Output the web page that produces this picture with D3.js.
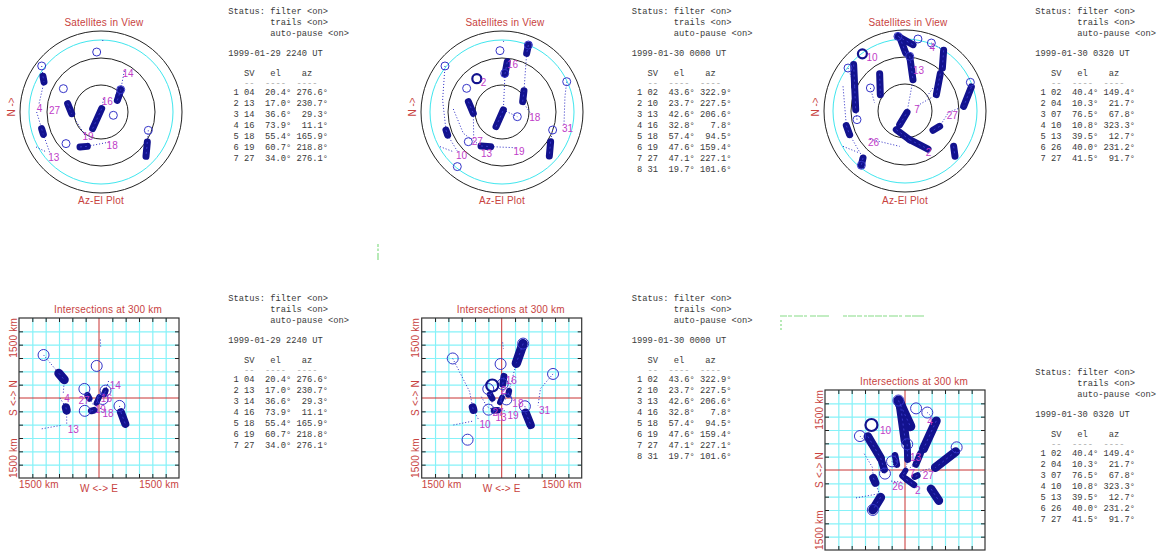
<!DOCTYPE html>
<html>
<head>
<meta charset="utf-8">
<script src="https://cdn.jsdelivr.net/npm/d3@7"></script>
<style>
  html, body { margin: 0; padding: 0; background: #fff; }
  svg { display: block; }
  text { font-family: "Liberation Sans", Arial, sans-serif; }
  .mono { font-family: "Liberation Mono", "DejaVu Sans Mono", monospace; white-space: pre; }
</style>
</head>
<body>
<svg id="chart" width="1158" height="552"></svg>
<script>
// ---------- satellite tables (SV, elevation deg, azimuth deg) ----------
const epochs = ["1999-01-29 2240 UT", "1999-01-30 0000 UT", "1999-01-30 0320 UT"];

const sv2240 = ["04", "13", "14", "16", "18", "19", "27"];
const el2240 = [20.4, 17.0, 36.6, 73.9, 55.4, 60.7, 34.0];
const az2240 = [276.6, 230.7, 29.3, 11.1, 165.9, 218.8, 276.1];

const sv0000 = ["02", "10", "13", "16", "18", "19", "27", "31"];
const el0000 = [43.6, 23.7, 42.6, 32.8, 57.4, 47.6, 47.1, 19.7];
const az0000 = [322.9, 227.5, 206.6, 7.8, 94.5, 159.4, 227.1, 101.6];

const sv0320 = ["02", "04", "07", "10", "13", "26", "27"];
const el0320 = [40.4, 10.3, 76.5, 10.8, 39.5, 40.0, 41.5];
const az0320 = [149.4, 21.7, 67.8, 323.3, 12.7, 231.2, 91.7];

// satellites newly acquired at each epoch
const acquired2240 = [];
const acquired0000 = ["02"];
const acquired0320 = ["10"];

// ---------- position history, [azimuth, elevation] ----------
// dense clusters of filtered fixes
const blobs2240 = [
  [[301.6, 14.3], [297.8, 18.4]],
  [[254.3, 21.5], [248.8, 21.3]],
  [[54.5, 67.7], [47.2, 62.7], [41.4, 56.9]],
  [[206.6, 69.3], [11, 86.2]],
  [[284, 51.8], [266.7, 57.4]],
  [[211, 44.7], [201.7, 48.9]],
  [[122.9, 28.7], [134.6, 19.8]]
];
// sparse fixes between clusters
const dotted2240 = [
  [[307.8, 6.6], [301.6, 14.3]],
  [[297.8, 18.4], [276.6, 20.4]],
  [[270, 18.5], [254.3, 21.5]],
  [[248.8, 21.3], [230.7, 17.0]],
  [[241.7, 8], [233.6, 15]],
  [[41.4, 56.9], [29.3, 36.6]],
  [[11, 86.2], [11.1, 73.9]],
  [[266.7, 57.4], [214.4, 58.6]],
  [[201.7, 48.9], [165.9, 55.4]],
  [[111.2, 33.6], [122.9, 28.7]],
  [[1.3, 10], [2, 13]]
];
// first fix of each track
const rings2240 = [[307.8, 6.6], [355.9, 23.2], [301.8, 40.8], [227.9, 37.6], [111.2, 33.6], [105, 75.8], [41.4, 56.9]];

const blobs0000 = [
  [[21.5, 10], [22.8, 19.3]],
  [[63.4, 64.3], [45.9, 56]],
  [[4.5, 47.6], [6, 33.8]],
  [[202.2, 72.4], [33.7, 87.3]],
  [[287.1, 50.9], [267.3, 58.1]],
  [[211.7, 45.6], [198.1, 49.5]],
  [[252.2, 24.6], [247, 24.4]],
  [[121.4, 26.7], [132.9, 18.2]]
];
const dotted0000 = [
  [[22.8, 19.3], [45.9, 56]],
  [[4.5, 47.6], [33.7, 87.3]],
  [[308.9, 8.6], [281.4, 22.7], [252.2, 24.6]],
  [[247, 24.4], [227.5, 23.7]],
  [[240.8, 11.1], [230.8, 20.2]],
  [[64.9, 10.6], [76.3, 18], [101.6, 19.7]],
  [[109.6, 30.3], [121.4, 26.7]],
  [[267.3, 58.1], [227.1, 47.1]],
  [[198.1, 49.5], [159.4, 47.6]],
  [[33.7, 87.3], [107, 72.2]],
  [[63.4, 64.3], [94.5, 57.4]],
  [[273.5, 35.8], [241.1, 40.9], [211.7, 45.6]],
  [[1, 11], [2, 13.5]]
];
const rings0000 = [[358.1, 21.8], [303.8, 42.7], [228.6, 40.1], [219.3, 11.6], [64.9, 10.6], [109.6, 30.3], [107, 72.2], [308.9, 8.6], [21.5, 10], [4, 47]];

const blobs0320 = [
  [[354.6, 6.7], [6.9, 15.8]],
  [[355.9, 7.6], [0.7, 25.6]],
  [[4.9, 29], [14.3, 54.1]],
  [[32.5, 10.1], [41, 26.7]],
  [[43.4, 32.9], [62.5, 50.7]],
  [[70.1, 11.6], [85.5, 24.6]],
  [[113.9, 47.9], [124.6, 52.2]],
  [[312.1, 13.1], [296.1, 27.7], [271.5, 35.2]],
  [[325.8, 39.9], [303.5, 57.1]],
  [[204.9, 67.1], [170.8, 57.7], [148.8, 40.6]],
  [[201.3, 73.7], [123.7, 87.3]],
  [[256, 22.8], [246.8, 23.1]],
  [[221.8, 20], [218.8, 12.6]],
  [[126, 23.2], [132.2, 15]]
];
const dotted0320 = [
  [[307, 10.7], [296.1, 27.7]],
  [[271.5, 35.2], [259.8, 35.8]],
  [[291.7, 15.9], [275, 22.7], [256, 22.8]],
  [[246.8, 23.1], [221.8, 20]],
  [[240.3, 10.7], [227.2, 21.3]],
  [[231.2, 40], [188.6, 50.3]],
  [[85.5, 24.6], [91.7, 41.5], [113.9, 47.9]],
  [[21.2, 9], [32.5, 10.1]],
  [[62.5, 50.7], [67.8, 76.5]],
  [[123.7, 87.3], [14.3, 54.1]],
  [[303.6, 43.8], [285, 55]],
  [[56.3, 60.6], [50, 48]]
];
const rings0320 = [[10.2, 8.7], [21.2, 9], [66.3, 10.7], [307, 10.7], [259.8, 35.8], [218.8, 12.6], [354.6, 6.7], [303.6, 43.8], [4.9, 29]];

// ---------- constants ----------
const DEG = Math.PI / 180;
const RE = 6371;        // earth radius, km
const H_ION = 300;      // shell height, km
const EXTENT = 1500;    // km from centre to frame edge
const W = 1158, H = 552;

const C = {
  title: "#c8423e",
  label: "#c03cc8",
  ring: "#3434c8",
  blob: "#12128e",
  dot: "#2a2ac4",
  text: "#3a3a3a",
  dim: "#a8a8a8",
  cyan: "#40e6ee",
  grid: "#86f2f8",
  axis: "#c83232",
  frame: "#333"
};

const svg = d3.select("#chart");

// ionospheric pierce point (east, north) in km for a given look direction
function pierce([az, el]) {
  const e = el * DEG;
  const psi = Math.PI / 2 - e - Math.asin(RE / (RE + H_ION) * Math.cos(e));
  const d = RE * psi;
  return [d * Math.sin(az * DEG), d * Math.cos(az * DEG)];
}

function rowText(i, sv, el, az) {
  return String(i + 1).padStart(2) + " " + sv + "  " +
    el.toFixed(1).padStart(4) + "\u00b0 " + az.toFixed(1).padStart(5) + "\u00b0";
}

function drawTable(x0, y0, epoch, sv, el, az) {
  const lines = [
    { t: "Status: filter <on>", y: 11 },
    { t: "        trails <on>", y: 22 },
    { t: "        auto-pause <on>", y: 33 },
    { t: epoch, y: 52.7 },
    { t: "   SV   el    az", y: 72.7 },
    { t: "   --  ----  ----", y: 83.3, dim: true }
  ];
  sv.forEach((s, i) => lines.push({ t: rowText(i, s, el[i], az[i]), y: 92.3 + i * 10.9 }));
  svg.append("g").selectAll("text").data(lines).join("text")
    .attr("class", "mono")
    .attr("x", x0)
    .attr("y", d => y0 + d.y + 3.1)
    .attr("font-size", 8.75)
    .attr("fill", d => d.dim ? C.dim : C.text)
    .text(d => d.t);
}

// trails, rings and labels through a given projection
function drawTracks(g, P, set, o) {
  const line = d3.line().x(p => P(p)[0]).y(p => P(p)[1]);
  g.append("g").selectAll("path").data(set.dotted).join("path")
    .attr("d", line).attr("fill", "none")
    .attr("stroke", C.dot).attr("stroke-width", 1)
    .attr("stroke-dasharray", "1,2");
  // each cluster drawn segment by segment so its spread can follow the geometry
  const segs = set.blobs.flatMap(b => d3.pairs(b));
  g.append("g").selectAll("path").data(segs).join("path")
    .attr("d", line).attr("fill", "none")
    .attr("stroke", C.blob).attr("stroke-width", s => o.blobW(s))
    .attr("stroke-linecap", "round").attr("stroke-linejoin", "round");
  g.append("g").selectAll("path").data(segs).join("path")
    .attr("d", line).attr("fill", "none")
    .attr("stroke", "#4444dc").attr("stroke-width", 1)
    .attr("stroke-dasharray", "2,3").attr("opacity", 0.75);
  g.append("g").selectAll("circle").data(set.rings).join("circle")
    .attr("cx", p => P(p)[0]).attr("cy", p => P(p)[1])
    .attr("r", o.ringR).attr("fill", "none")
    .attr("stroke", C.ring).attr("stroke-width", 1);
  const cur = set.sv.map((s, i) => ({ sv: s, p: [set.az[i], set.el[i]] }));
  g.append("g").selectAll("circle").data(cur.filter(d => set.acquired.includes(d.sv))).join("circle")
    .attr("cx", d => P(d.p)[0]).attr("cy", d => P(d.p)[1])
    .attr("r", o.ringR + 0.5).attr("fill", "none")
    .attr("stroke", C.blob).attr("stroke-width", 2.2);
  g.append("g").selectAll("text").data(cur).join("text")
    .attr("x", d => P(d.p)[0] + o.ldx + (set.acquired.includes(d.sv) ? o.ringR + 2 : 0))
    .attr("y", d => P(d.p)[1] + o.ldy)
    .attr("font-size", 10).attr("fill", C.label)
    .text(d => String(+d.sv));
}

function drawPolar(cx, cy, set) {
  const R = 81;
  const r = d3.scaleLinear().domain([90, 0]).range([0, R]);
  const P = ([az, el]) => [cx + r(el) * Math.sin(az * DEG), cy - r(el) * Math.cos(az * DEG)];
  const g = svg.append("g");
  g.selectAll("circle.el").data([0, 30, 60]).join("circle")
    .attr("cx", cx).attr("cy", cy).attr("r", d => r(d))
    .attr("fill", "none").attr("stroke", "#222").attr("stroke-width", 1);
  g.append("circle").attr("cx", cx).attr("cy", cy).attr("r", r(10))
    .attr("fill", "none").attr("stroke", C.cyan).attr("stroke-width", 1);
  drawTracks(g, P, set, { blobW: () => 7, ringR: 4, ldx: -2, ldy: 7 });
  g.append("text").attr("x", cx + 3).attr("y", 25.5).attr("text-anchor", "middle")
    .attr("font-size", 10).attr("letter-spacing", 0.2).attr("fill", C.title).text("Satellites in View");
  g.append("text").attr("x", cx).attr("y", 203.5).attr("text-anchor", "middle")
    .attr("font-size", 10).attr("letter-spacing", 0.2).attr("fill", C.title).text("Az-El Plot");
  g.append("text").attr("transform", `translate(${cx - 86.4},107) rotate(-90)`)
    .attr("text-anchor", "middle").attr("font-size", 10).attr("fill", C.title).text("N ->");
}

let clipId = 0;
function drawIntersections(fx, fy, set) {
  const S = 160;
  const x = d3.scaleLinear().domain([-EXTENT, EXTENT]).range([fx, fx + S]);
  const y = d3.scaleLinear().domain([-EXTENT, EXTENT]).range([fy + S, fy]);
  const P = p => { const [e, n] = pierce(p); return [x(e), y(n)]; };
  // a cluster spreads out further from the station as the ray gets lower
  const spread = d3.scaleLinear().domain([0, EXTENT]).range([5.5, 12]);
  const segW = s => {
    const m = s.map(pierce);
    return spread(Math.hypot((m[0][0] + m[1][0]) / 2, (m[0][1] + m[1][1]) / 2));
  };
  const g = svg.append("g");
  const inner = d3.range(-EXTENT + 250, EXTENT, 250).filter(v => v !== 0);

  // grid
  const gx = g.append("g").attr("transform", `translate(0,${fy + S})`)
    .call(d3.axisBottom(x).tickValues(inner).tickSize(-S).tickFormat(""));
  const gy = g.append("g").attr("transform", `translate(${fx},0)`)
    .call(d3.axisLeft(y).tickValues(inner).tickSize(-S).tickFormat(""));
  [gx, gy].forEach(a => { a.select(".domain").remove(); a.selectAll("line").attr("stroke", C.grid).attr("stroke-width", 1.2); });

  // centre lines
  g.append("line").attr("x1", x(0)).attr("x2", x(0)).attr("y1", fy).attr("y2", fy + S).attr("stroke", C.axis);
  g.append("line").attr("x1", fx).attr("x2", fx + S).attr("y1", y(0)).attr("y2", y(0)).attr("stroke", C.axis);

  // frame ticks on all four sides
  const tickAxes = [
    [d3.axisTop(x), `translate(0,${fy})`],
    [d3.axisBottom(x), `translate(0,${fy + S})`],
    [d3.axisLeft(y), `translate(${fx},0)`],
    [d3.axisRight(y), `translate(${fx + S},0)`]
  ];
  tickAxes.forEach(([ax, tr]) => {
    const a = g.append("g").attr("transform", tr)
      .call(ax.tickValues(inner).tickSizeInner(-4).tickSizeOuter(0).tickFormat(""));
    a.select(".domain").remove();
    a.selectAll("line").attr("stroke", "#222");
  });

  const id = "clip" + (clipId++);
  g.append("clipPath").attr("id", id).append("rect")
    .attr("x", fx).attr("y", fy).attr("width", S).attr("height", S);
  const body = g.append("g").attr("clip-path", `url(#${id})`);
  drawTracks(body, P, set, { blobW: segW, ringR: 5.5, ldx: 1, ldy: 8.5 });

  g.append("rect").attr("x", fx).attr("y", fy).attr("width", S).attr("height", S)
    .attr("fill", "none").attr("stroke", C.frame).attr("stroke-width", 1.2);

  // titles and axis captions (only those that land on the canvas)
  const t = (attrs, txt) => {
    const el = g.append("text").attr("font-size", 10).attr("letter-spacing", 0.2).attr("fill", C.title).text(txt);
    Object.entries(attrs).forEach(([k, v]) => el.attr(k, v));
  };
  t({ x: fx + S / 2 + 9, y: fy - 5.4, "text-anchor": "middle" }, "Intersections at 300 km");
  t({ transform: `translate(${fx - 2.4},${fy + S / 2}) rotate(-90)`, "text-anchor": "middle" }, "S <-> N");
  t({ transform: `translate(${fx - 2.4},${fy}) rotate(-90)`, "text-anchor": "end" }, "1500 km");
  t({ transform: `translate(${fx - 2.4},${fy + S}) rotate(-90)`, "text-anchor": "start" }, "1500 km");
  if (fy + S + 14 < H) {
    t({ x: fx, y: fy + S + 9.6, "text-anchor": "start" }, "1500 km");
    t({ x: fx + S, y: fy + S + 9.6, "text-anchor": "end" }, "1500 km");
    t({ x: fx + S / 2, y: fy + S + 13.6, "text-anchor": "middle" }, "W <-> E");
  }
}

const sets = [
  { sv: sv2240, el: el2240, az: az2240, acquired: acquired2240, blobs: blobs2240, dotted: dotted2240, rings: rings2240 },
  { sv: sv0000, el: el0000, az: az0000, acquired: acquired0000, blobs: blobs0000, dotted: dotted0000, rings: rings0000 },
  { sv: sv0320, el: el0320, az: az0320, acquired: acquired0320, blobs: blobs0320, dotted: dotted0320, rings: rings0320 }
];

// screen layout of the six views
const polarAt = [[101, 112], [502, 112], [905, 111]];
const textTopAt = [228.3, 631.8, 1035.3];
const frameAt = [[19, 318], [421.7, 318], [825, 390]];
const textBottomY = [287, 287, 361];

sets.forEach((s, i) => {
  drawPolar(polarAt[i][0], polarAt[i][1], s);
  drawTable(textTopAt[i], 0, epochs[i], s.sv, s.el, s.az);
  drawIntersections(frameAt[i][0], frameAt[i][1], s);
  drawTable(textTopAt[i], textBottomY[i], epochs[i], s.sv, s.el, s.az);
});

// stray redraw specks left on the display
const specks = svg.append("g").attr("stroke", "#86dc86").attr("stroke-width", 1.2).attr("fill", "none");
[[378, 244, 378, 247], [378, 248.5, 378, 251], [378, 253, 378, 260]].forEach(([a, b, c, d]) =>
  specks.append("line").attr("x1", a).attr("y1", b).attr("x2", c).attr("y2", d));
specks.append("line").attr("x1", 780).attr("y1", 316).attr("x2", 927).attr("y2", 316)
  .attr("stroke-dasharray", "7,1,4,2,9,1,3,3,6,1,12,14,4,1,8,1,5,2,3,1,6,1");
specks.append("line").attr("x1", 781).attr("y1", 320).attr("x2", 781).attr("y2", 330)
  .attr("stroke-dasharray", "2,2");
</script>
</body>
</html>
